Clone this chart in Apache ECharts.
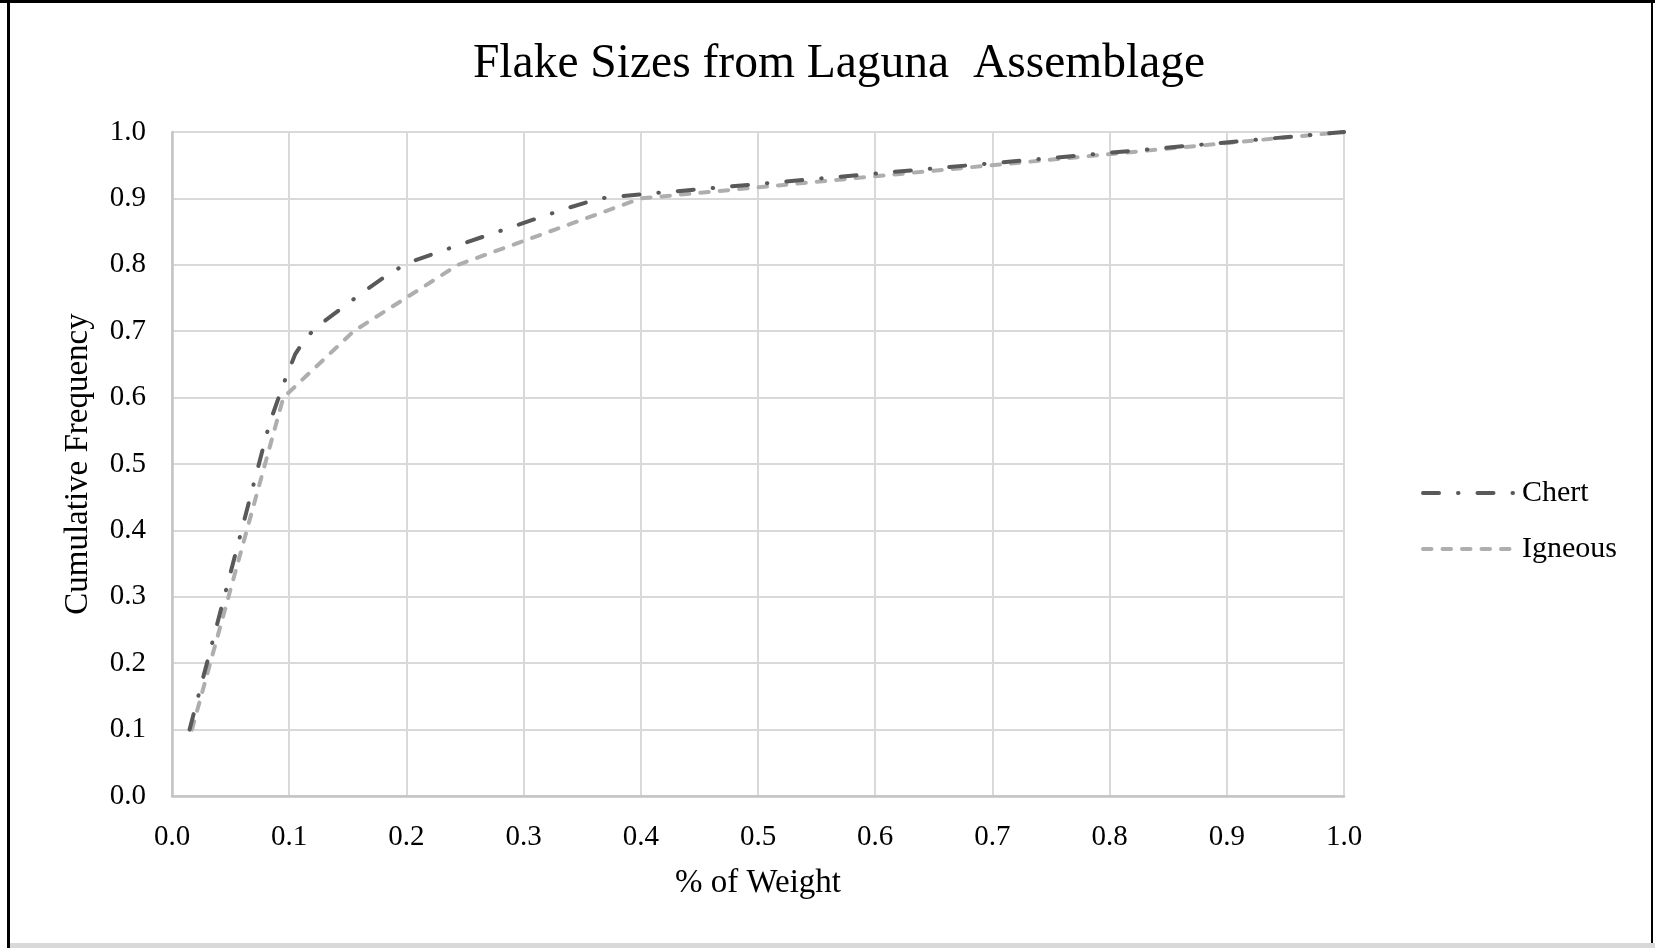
<!DOCTYPE html>
<html>
<head>
<meta charset="utf-8">
<script src="https://cdn.jsdelivr.net/npm/echarts@6/dist/echarts.min.js"></script>
<style>
  html, body { margin: 0; padding: 0; background: #fff; }
  #chart { width: 1655px; height: 948px; }
</style>
</head>
<body>
<div id="chart"></div>
<script>
// values
const seriesNames = ['Chert', 'Igneous'];
const chertX = [0.015, 0.083, 0.095, 0.105, 0.115, 0.13, 0.16, 0.18, 0.2, 0.245, 0.29, 0.335, 0.365, 0.4, 1.0];
const chertY = [0.1, 0.56, 0.62, 0.665, 0.692, 0.715, 0.755, 0.78, 0.802, 0.83, 0.857, 0.884, 0.9, 0.906, 1.0];
const igneousX = [0.017, 0.095, 0.155, 0.244, 0.4, 1.0];
const igneousY = [0.1, 0.6, 0.7, 0.8, 0.9, 1.0];

const font = 'Liberation Serif';

const toPairs = (xs, ys) => xs.map((x, i) => [x, ys[i]]);

const chart = echarts.init(document.getElementById('chart'));

const axisCommon = {
  type: 'value',
  min: 0,
  max: 1,
  interval: 0.1,
  axisLine: { show: true, lineStyle: { color: '#c4c4c4', width: 2.5 } },
  axisTick: { show: false },
  splitLine: { show: true, lineStyle: { color: '#d9d9d9', width: 2 } },
  axisLabel: {
    color: '#000',
    fontFamily: font,
    fontSize: 29,
    formatter: (v) => v.toFixed(1)
  },
  nameLocation: 'middle',
  nameTextStyle: { color: '#000', fontFamily: font, fontSize: 33 }
};

chart.setOption({
  animation: false,
  backgroundColor: '#fff',
  title: {
    text: 'Flake Sizes from Laguna  Assemblage',
    left: 834,
    textAlign: 'center',
    top: 36,
    textStyle: { color: '#000', fontFamily: font, fontSize: 47.5, fontWeight: 'normal' }
  },
  grid: { left: 172, right: 311, top: 132, bottom: 152 },
  xAxis: Object.assign({}, axisCommon, {
    name: '% of Weight',
    nameGap: 71,
    axisLabel: Object.assign({}, axisCommon.axisLabel, { margin: 27 })
  }),
  yAxis: Object.assign({}, axisCommon, {
    name: 'Cumulative Frequency',
    nameGap: 77,
    axisLabel: Object.assign({}, axisCommon.axisLabel, { margin: 26 })
  }),
  legend: {
    orient: 'vertical',
    left: 1416,
    top: 473,
    itemWidth: 94,
    itemHeight: 14,
    itemGap: 26,
    data: seriesNames,
    itemStyle: { opacity: 0 },
    lineStyle: { width: 4, cap: 'round' },
    textStyle: { color: '#000', fontFamily: font, fontSize: 30 }
  },
  series: [
    {
      name: seriesNames[0],
      type: 'line',
      data: toPairs(chertX, chertY),
      showSymbol: false,
      symbol: 'none',
      color: '#595959',
      lineStyle: { color: '#595959', width: 4, type: [16, 19, 0.5, 19], cap: 'round' },
      z: 3
    },
    {
      name: seriesNames[1],
      type: 'line',
      data: toPairs(igneousX, igneousY),
      showSymbol: false,
      symbol: 'none',
      color: '#aeaeae',
      lineStyle: { color: '#aeaeae', width: 4, type: [8.5, 11], cap: 'round' },
      z: 2
    }
  ],
  graphic: [
    { type: 'rect', shape: { x: 0, y: 0, width: 1655, height: 3 }, style: { fill: '#000' } },
    { type: 'rect', shape: { x: 7, y: 0, width: 3, height: 948 }, style: { fill: '#000' } },
    { type: 'rect', shape: { x: 1651, y: 0, width: 2, height: 943 }, style: { fill: '#000' } },
    { type: 'rect', shape: { x: 10, y: 943, width: 1645, height: 5 }, style: { fill: '#d9d9d9' } }
  ]
});
</script>
</body>
</html>
